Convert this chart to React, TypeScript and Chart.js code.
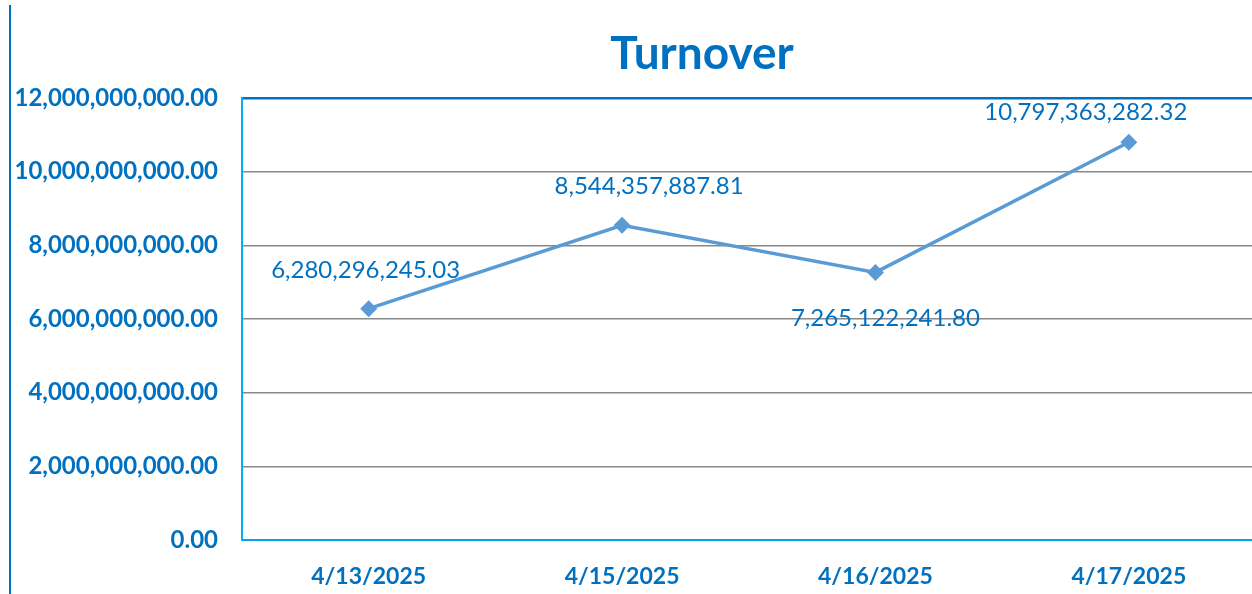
import React, { useEffect, useRef } from "react";
import { Chart, registerables } from "chart.js";

Chart.register(...registerables);

const categories = ["4/13/2025", "4/15/2025", "4/16/2025", "4/17/2025"];
const turnover = [6280296245.03, 8544357887.81, 7265122241.8, 10797363282.32];
const yTicks = [0, 2e9, 4e9, 6e9, 8e9, 10e9, 12e9];
const chartTitle = "Turnover";

// label offsets (style only)
const labelOffsets = [
  [-3, -38],
  [27, -39],
  [10, 46],
  [-43, -30],
];

const BLUE = "#0070c0";
const FONT = "Lato, 'Open Sans', sans-serif";

const fmt = (v: number) =>
  v.toLocaleString("en-US", { minimumFractionDigits: 2, maximumFractionDigits: 2 });

const decorPlugin = {
  id: "decor",
  afterDatasetsDraw(chart: any) {
    const ctx = chart.ctx;
    const meta = chart.getDatasetMeta(0);
    ctx.save();
    ctx.fillStyle = BLUE;
    ctx.font = `normal 24px ${FONT}`;
    ctx.textAlign = "center";
    ctx.textBaseline = "middle";
    meta.data.forEach((pt: any, i: number) => {
      const [dx, dy] = labelOffsets[i];
      ctx.fillText(fmt(turnover[i]), pt.x + dx, pt.y + dy);
    });
    ctx.restore();
  },
  afterDraw(chart: any) {
    const ctx = chart.ctx;
    ctx.save();
    ctx.fillStyle = BLUE;
    ctx.font = `bold 46px ${FONT}`;
    ctx.textAlign = "center";
    ctx.textBaseline = "middle";
    ctx.fillText(chartTitle, 702, 54);
    ctx.strokeStyle = BLUE;
    ctx.lineWidth = 2;
    ctx.beginPath();
    ctx.moveTo(10, 5);
    ctx.lineTo(10, 594);
    ctx.stroke();
    ctx.restore();
  },
};

export default function App() {
  const ref = useRef<HTMLCanvasElement>(null);
  useEffect(() => {
    if (!ref.current) return;
    const chart = new Chart(ref.current, {
      type: "line",
      data: {
        labels: categories,
        datasets: [
          {
            data: turnover,
            borderColor: "#5b9bd5",
            backgroundColor: "#5b9bd5",
            borderWidth: 3.5,
            pointStyle: "rectRot",
            pointRadius: 6,
            pointHoverRadius: 6,
            tension: 0,
          },
        ],
      },
      options: {
        animation: false,
        responsive: false,
        layout: { padding: { top: 98, right: 8, left: 0, bottom: 0 } },
        plugins: { legend: { display: false }, tooltip: { enabled: false }, title: { display: false } },
        scales: {
          x: {
            offset: true,
            grid: { display: false, drawTicks: false },
            border: { display: true, color: "#00a8e8", width: 2 },
            ticks: {
              color: BLUE,
              font: { family: FONT, size: 23, weight: "bold" },
              padding: 23,
              maxRotation: 0,
            },
            afterFit(scale: any) {
              scale.height = 54;
            },
          },
          y: {
            min: 0,
            max: 12e9,
            afterBuildTicks(scale: any) {
              scale.ticks = yTicks.map((v) => ({ value: v }));
            },
            grid: {
              drawTicks: false,
              color: (c: any) =>
                c.tick && c.tick.value === 12e9 ? BLUE : c.tick && c.tick.value === 0 ? "rgba(0,0,0,0)" : "#888888",
              lineWidth: (c: any) => (c.tick && c.tick.value === 12e9 ? 2.5 : 1.5),
            },
            border: { display: true, color: "#00b0f0", width: 2 },
            ticks: {
              color: BLUE,
              font: { family: FONT, size: 24, weight: "bold" },
              padding: 24,
              callback: (v: any) => fmt(Number(v)),
            },
            afterFit(scale: any) {
              scale.width = 242;
            },
          },
        },
      },
      plugins: [decorPlugin],
    });
    return () => chart.destroy();
  }, []);
  return (
    <div style={{ position: "fixed", left: 0, top: 0, width: 1252, height: 594, overflow: "hidden", background: "#fff" }}>
      <canvas ref={ref} width={1265} height={594} style={{ display: "block" }} />
    </div>
  );
}
